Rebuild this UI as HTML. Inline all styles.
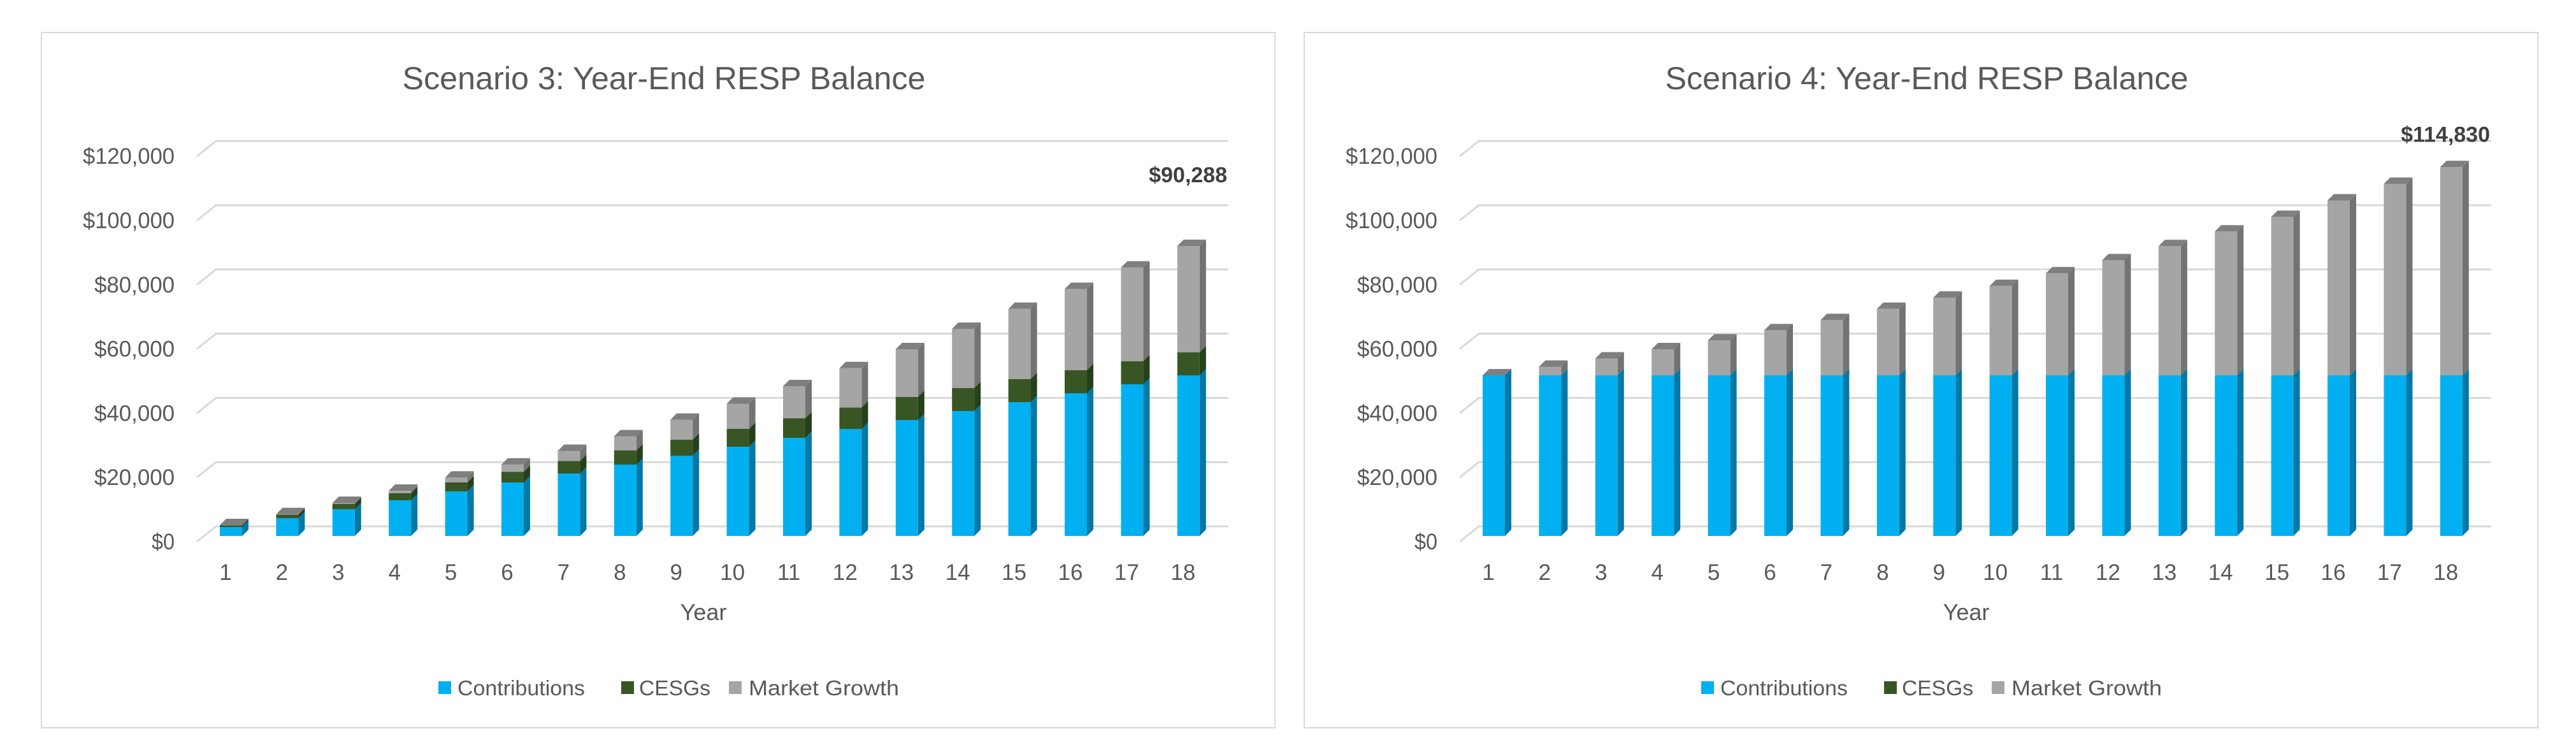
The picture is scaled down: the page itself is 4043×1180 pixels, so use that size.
<!DOCTYPE html>
<html><head><meta charset="utf-8"><style>
html,body{margin:0;padding:0;background:#fff;}
svg{display:block;font-family:"Liberation Sans",sans-serif;}
</style></head><body>
<svg id="c" width="4043" height="1180" viewBox="0 0 4043 1180" xmlns="http://www.w3.org/2000/svg"></svg>
<script>
const years=[1,2,3,4,5,6,7,8,9,10,11,12,13,14,15,16,17,18];
const yTicks=[0,20000,40000,60000,80000,100000,120000];
const tickLabels=["$0","$20,000","$40,000","$60,000","$80,000","$100,000","$120,000"];
const s3Contrib=[2778,5556,8333,11111,13889,16667,19444,22222,25000,27778,30556,33333,36111,38889,41667,44444,47222,50000];
const s3Cesg=[556,1111,1667,2222,2778,3333,3889,4444,5000,5556,6111,6667,7200,7200,7200,7200,7200,7200];
const s3Growth=[40,120,300,747,1501,2256,3162,4371,6185,7847,9964,12233,14827,18407,21837,25267,29150,33088];
const s4Contrib=[50000,50000,50000,50000,50000,50000,50000,50000,50000,50000,50000,50000,50000,50000,50000,50000,50000,50000];
const s4Cesg=[0,0,0,0,0,0,0,0,0,0,0,0,0,0,0,0,0,0];
const s4Growth=[0,2690,5260,8140,10860,14040,17220,20700,24190,27820,31760,35840,40230,44780,49320,54470,59620,64830];
const titles=["Scenario 3: Year-End RESP Balance","Scenario 4: Year-End RESP Balance"];
const annotations=["$90,288","$114,830"];
const legendNames=["Contributions","CESGs","Market Growth"];

const NS="http://www.w3.org/2000/svg";
const svg=document.getElementById('c');
function mk(tag,attrs,parent,text){const e=document.createElementNS(NS,tag);for(const k in attrs)e.setAttribute(k,attrs[k]);if(text!==undefined)e.textContent=text;(parent||svg).appendChild(e);return e;}
const K=0.00504;
const gridY=v=>826-v*K;
const frontY=v=>841-v*K;
const barX=(i,dx)=>345+dx+i*88.4;
const fronts=["#00B0F0","#375623","#A5A5A5"];
const sides=["#0079A6","#25401A","#737373"];
const tops=["#0090C8","#2E4A1E","#7F7F7F"];

function drawPanel(p,dx,contrib,cesg,growth){
  const g=mk('g',{},svg);
  
  
  const bd=mk('rect',{x:65+dx,y:51,width:1936,height:1091,fill:'#fff',stroke:'#D9D9D9','stroke-width':2},g);
  
  const t=mk('text',{x:1042+dx,y:140,'text-anchor':'middle','font-size':50,fill:'#595959',textLength:821,lengthAdjust:'spacingAndGlyphs'},g,titles[p]);
  
  yTicks.forEach((v,i)=>{
    const y=gridY(v);
    const l=mk('path',{d:`M${309+dx},${y+24} L${339+dx},${y} L${1928+dx},${y}`,fill:'none',stroke:'#D9D9D9','stroke-width':3},g);
    
    const tl=mk('text',{x:274+dx,y:y+36,'text-anchor':'end','font-size':35,fill:'#595959',textLength:tickLabels[i].length*18,lengthAdjust:'spacingAndGlyphs'},g,tickLabels[i]);
    
  });
  years.forEach((yr,i)=>{
    const x=barX(i,dx),w=35,d=10;
    const segs=[contrib[i],cesg[i],growth[i]];
    let base=0;let lastTop=null,lastIdx=0;
    segs.forEach((v,s)=>{
      if(v<=0)return;
      const y0=frontY(base),y1=frontY(base+v);
      const side=mk('polygon',{points:`${x+w},${y0} ${x+w+d},${y0-d} ${x+w+d},${y1-d} ${x+w},${y1}`,fill:sides[s]},g);
      
      const r=mk('rect',{x:x,y:y1,width:w,height:y0-y1,fill:fronts[s]},g);
      
      
      base+=v;lastTop=y1;lastIdx=s;
    });
    if(lastTop!==null){
      const cap=mk('polygon',{points:`${x},${lastTop} ${x+d},${lastTop-d} ${x+w+d},${lastTop-d} ${x+w},${lastTop}`,fill:tops[lastIdx===0&&growth[i]<=0?2:lastIdx]},g);
      
    }
    const xl=mk('text',{x:x+9,y:910,'text-anchor':'middle','font-size':35,fill:'#595959'},g,String(yr));
    
  });
  const last=years.length-1;
  const tot=contrib[last]+cesg[last]+growth[last];
  const an=mk('text',{x:1926+dx,y:Math.min(frontY(tot)-40,286),'text-anchor':'end','font-size':34,'font-weight':'bold',fill:'#404040'},g,annotations[p]);
  
  const xt=mk('text',{x:1104+dx,y:973,'text-anchor':'middle','font-size':36,fill:'#595959'},g,'Year');
  
  const lx=[688,975,1144],tx=[718,1003,1175],tw=[200,112,236];
  legendNames.forEach((n,i)=>{
    const lg=mk('g',{},g);
    
    
    mk('rect',{x:lx[i]+dx,y:1069,width:20,height:20,fill:fronts[i]},lg);
    mk('text',{x:tx[i]+dx,y:1091,'font-size':33,fill:'#595959',textLength:tw[i],lengthAdjust:'spacingAndGlyphs'},lg,n);
  });
}
drawPanel(0,0,s3Contrib,s3Cesg,s3Growth);
drawPanel(1,1982,s4Contrib,s4Cesg,s4Growth);
</script>
</body></html>
